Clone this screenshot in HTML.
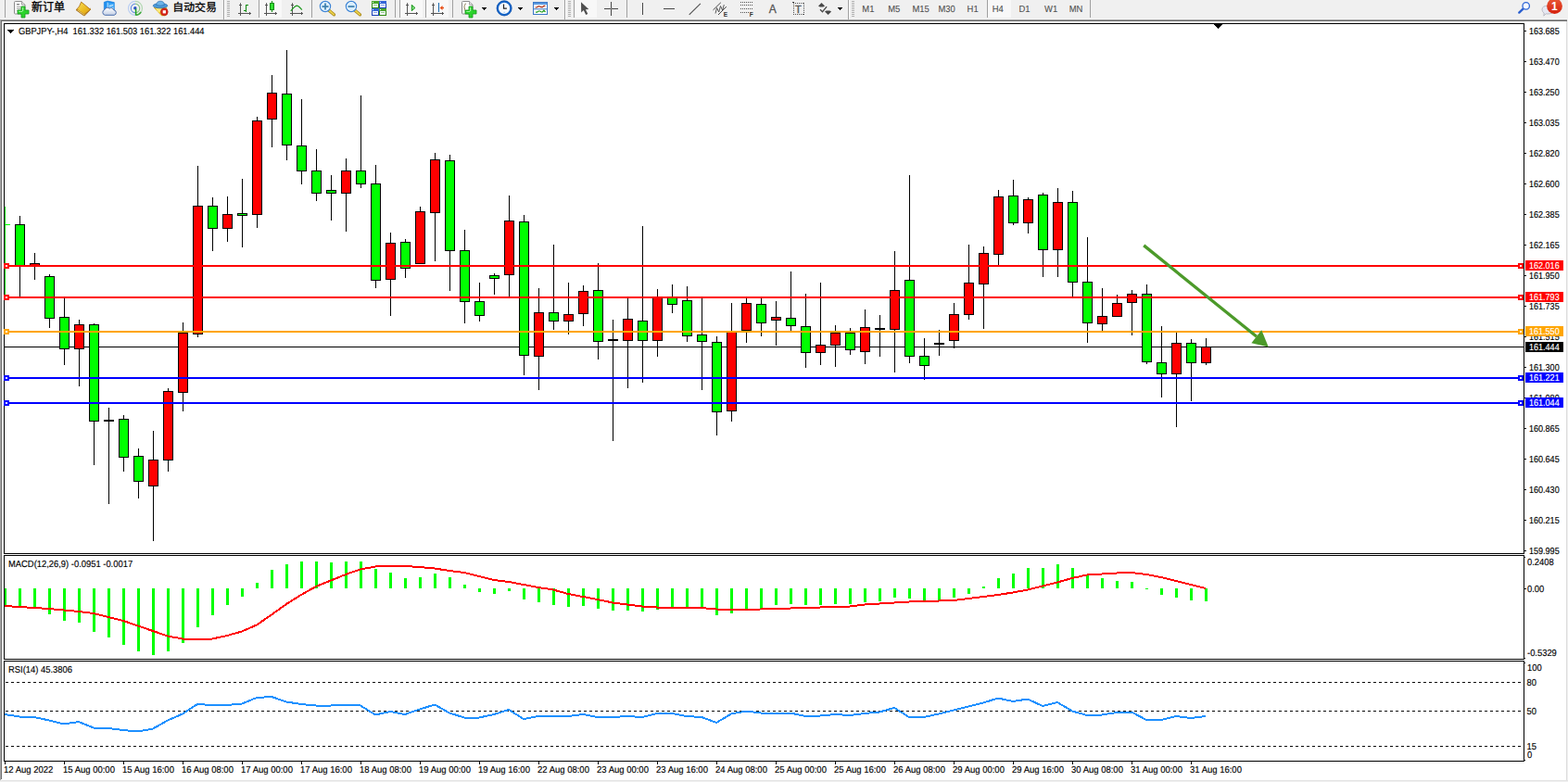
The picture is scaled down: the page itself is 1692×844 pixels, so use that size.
<!DOCTYPE html><html><head><meta charset="utf-8"><title>GBPJPY H4</title><style>html,body{margin:0;padding:0;background:#fff}body{width:1692px;height:844px;overflow:hidden;font-family:"Liberation Sans",sans-serif}svg{display:block;font-family:"Liberation Sans",sans-serif}</style></head><body>
<svg width="1692" height="844" viewBox="0 0 1692 844">
<rect x="0" y="0" width="1692" height="844" fill="#fff" />
<g shape-rendering="crispEdges">
<rect x="0" y="0" width="1692" height="21" fill="#f0f0f0" />
<rect x="0" y="20" width="1692" height="1" fill="#f5f5f5" />
<rect x="0" y="21" width="1692" height="1" fill="#a0a0a0" />
<rect x="0" y="22" width="1692" height="1" fill="#696969" />
<rect x="0" y="22" width="1" height="820" fill="#a8a8a8" />
<rect x="1" y="23" width="1" height="818" fill="#6e6e6e" />
<rect x="1690" y="23" width="1" height="821" fill="#dcdcdc" />
<rect x="1691" y="21" width="1" height="823" fill="#f0f0f0" />
<rect x="0" y="842" width="1692" height="1" fill="#e3e3e3" />
<rect x="0" y="843" width="1692" height="1" fill="#f0f0f0" />
<rect x="4" y="25" width="1641" height="1" fill="#000" />
<rect x="4" y="25" width="1" height="573" fill="#000" />
<rect x="1644" y="25" width="1" height="573" fill="#000" />
<rect x="4" y="597" width="1641" height="1" fill="#000" />
<rect x="4" y="599" width="1641" height="1" fill="#000" />
<rect x="4" y="599" width="1" height="113" fill="#000" />
<rect x="1644" y="599" width="1" height="113" fill="#000" />
<rect x="4" y="711" width="1641" height="1" fill="#000" />
<rect x="4" y="713" width="1641" height="1" fill="#000" />
<rect x="4" y="713" width="1" height="109" fill="#000" />
<rect x="1644" y="713" width="1" height="109" fill="#000" />
<rect x="4" y="821" width="1641" height="1" fill="#000" />
<rect x="1645" y="601" width="1" height="1" fill="#000" />
<rect x="1645" y="710" width="1" height="1" fill="#000" />
<rect x="1645" y="715" width="1" height="1" fill="#000" />
<rect x="1645" y="820" width="1" height="1" fill="#000" />
<rect x="1645" y="33" width="2" height="1" fill="#000" />
<rect x="1645" y="66" width="2" height="1" fill="#000" />
<rect x="1645" y="99" width="2" height="1" fill="#000" />
<rect x="1645" y="132" width="2" height="1" fill="#000" />
<rect x="1645" y="165" width="2" height="1" fill="#000" />
<rect x="1645" y="198" width="2" height="1" fill="#000" />
<rect x="1645" y="231" width="2" height="1" fill="#000" />
<rect x="1645" y="264" width="2" height="1" fill="#000" />
<rect x="1645" y="297" width="2" height="1" fill="#000" />
<rect x="1645" y="330" width="2" height="1" fill="#000" />
<rect x="1645" y="363" width="2" height="1" fill="#000" />
<rect x="1645" y="396" width="2" height="1" fill="#000" />
<rect x="1645" y="429" width="2" height="1" fill="#000" />
<rect x="1645" y="462" width="2" height="1" fill="#000" />
<rect x="1645" y="495" width="2" height="1" fill="#000" />
<rect x="1645" y="528" width="2" height="1" fill="#000" />
<rect x="1645" y="561" width="2" height="1" fill="#000" />
<rect x="1645" y="594" width="2" height="1" fill="#000" />
<rect x="1645" y="635" width="2" height="1" fill="#000" />
<rect x="5" y="374" width="1639" height="1" fill="#000" />
<rect x="5" y="223" width="1" height="95" fill="#00ff00" />
<rect x="5" y="242" width="6" height="1" fill="#00ff00" />
<rect x="21" y="233" width="1" height="87" fill="#000" />
<rect x="16" y="242" width="11" height="45" fill="#000" />
<rect x="17" y="243" width="9" height="43" fill="#00ff00" />
<rect x="37" y="273" width="1" height="29" fill="#000" />
<rect x="32" y="284" width="11" height="3" fill="#000" />
<rect x="33" y="285" width="9" height="1" fill="#ff0000" />
<rect x="53" y="296" width="1" height="58" fill="#000" />
<rect x="48" y="298" width="11" height="46" fill="#000" />
<rect x="49" y="299" width="9" height="44" fill="#00ff00" />
<rect x="69" y="322" width="1" height="72" fill="#000" />
<rect x="64" y="342" width="11" height="35" fill="#000" />
<rect x="65" y="343" width="9" height="33" fill="#00ff00" />
<rect x="85" y="345" width="1" height="72" fill="#000" />
<rect x="80" y="350" width="11" height="27" fill="#000" />
<rect x="81" y="351" width="9" height="25" fill="#ff0000" />
<rect x="101" y="349" width="1" height="153" fill="#000" />
<rect x="96" y="350" width="11" height="105" fill="#000" />
<rect x="97" y="351" width="9" height="103" fill="#00ff00" />
<rect x="117" y="440" width="1" height="104" fill="#000" />
<rect x="112" y="453" width="11" height="2" fill="#000" />
<rect x="133" y="448" width="1" height="61" fill="#000" />
<rect x="128" y="452" width="11" height="42" fill="#000" />
<rect x="129" y="453" width="9" height="40" fill="#00ff00" />
<rect x="149" y="484" width="1" height="54" fill="#000" />
<rect x="144" y="492" width="11" height="28" fill="#000" />
<rect x="145" y="493" width="9" height="26" fill="#00ff00" />
<rect x="165" y="465" width="1" height="119" fill="#000" />
<rect x="160" y="496" width="11" height="29" fill="#000" />
<rect x="161" y="497" width="9" height="27" fill="#ff0000" />
<rect x="181" y="419" width="1" height="90" fill="#000" />
<rect x="176" y="422" width="11" height="75" fill="#000" />
<rect x="177" y="423" width="9" height="73" fill="#ff0000" />
<rect x="197" y="348" width="1" height="96" fill="#000" />
<rect x="192" y="359" width="11" height="65" fill="#000" />
<rect x="193" y="360" width="9" height="63" fill="#ff0000" />
<rect x="213" y="179" width="1" height="185" fill="#000" />
<rect x="208" y="222" width="11" height="139" fill="#000" />
<rect x="209" y="223" width="9" height="137" fill="#ff0000" />
<rect x="229" y="213" width="1" height="58" fill="#000" />
<rect x="224" y="222" width="11" height="25" fill="#000" />
<rect x="225" y="223" width="9" height="23" fill="#00ff00" />
<rect x="245" y="212" width="1" height="49" fill="#000" />
<rect x="240" y="231" width="11" height="16" fill="#000" />
<rect x="241" y="232" width="9" height="14" fill="#ff0000" />
<rect x="261" y="193" width="1" height="74" fill="#000" />
<rect x="256" y="230" width="11" height="3" fill="#000" />
<rect x="257" y="231" width="9" height="1" fill="#00ff00" />
<rect x="277" y="126" width="1" height="120" fill="#000" />
<rect x="272" y="130" width="11" height="102" fill="#000" />
<rect x="273" y="131" width="9" height="100" fill="#ff0000" />
<rect x="293" y="81" width="1" height="78" fill="#000" />
<rect x="288" y="100" width="11" height="29" fill="#000" />
<rect x="289" y="101" width="9" height="27" fill="#ff0000" />
<rect x="309" y="54" width="1" height="119" fill="#000" />
<rect x="304" y="101" width="11" height="56" fill="#000" />
<rect x="305" y="102" width="9" height="54" fill="#00ff00" />
<rect x="325" y="107" width="1" height="92" fill="#000" />
<rect x="320" y="157" width="11" height="28" fill="#000" />
<rect x="321" y="158" width="9" height="26" fill="#00ff00" />
<rect x="341" y="161" width="1" height="56" fill="#000" />
<rect x="336" y="184" width="11" height="25" fill="#000" />
<rect x="337" y="185" width="9" height="23" fill="#00ff00" />
<rect x="357" y="189" width="1" height="49" fill="#000" />
<rect x="352" y="205" width="11" height="4" fill="#000" />
<rect x="353" y="206" width="9" height="2" fill="#00ff00" />
<rect x="373" y="171" width="1" height="79" fill="#000" />
<rect x="368" y="184" width="11" height="25" fill="#000" />
<rect x="369" y="185" width="9" height="23" fill="#ff0000" />
<rect x="389" y="103" width="1" height="100" fill="#000" />
<rect x="384" y="184" width="11" height="15" fill="#000" />
<rect x="385" y="185" width="9" height="13" fill="#00ff00" />
<rect x="405" y="178" width="1" height="133" fill="#000" />
<rect x="400" y="198" width="11" height="105" fill="#000" />
<rect x="401" y="199" width="9" height="103" fill="#00ff00" />
<rect x="421" y="251" width="1" height="90" fill="#000" />
<rect x="416" y="262" width="11" height="40" fill="#000" />
<rect x="417" y="263" width="9" height="38" fill="#ff0000" />
<rect x="437" y="258" width="1" height="42" fill="#000" />
<rect x="432" y="261" width="11" height="29" fill="#000" />
<rect x="433" y="262" width="9" height="27" fill="#00ff00" />
<rect x="453" y="223" width="1" height="62" fill="#000" />
<rect x="448" y="228" width="11" height="57" fill="#000" />
<rect x="449" y="229" width="9" height="55" fill="#ff0000" />
<rect x="469" y="165" width="1" height="117" fill="#000" />
<rect x="464" y="172" width="11" height="58" fill="#000" />
<rect x="465" y="173" width="9" height="56" fill="#ff0000" />
<rect x="485" y="167" width="1" height="147" fill="#000" />
<rect x="480" y="173" width="11" height="98" fill="#000" />
<rect x="481" y="174" width="9" height="96" fill="#00ff00" />
<rect x="501" y="248" width="1" height="101" fill="#000" />
<rect x="496" y="270" width="11" height="56" fill="#000" />
<rect x="497" y="271" width="9" height="54" fill="#00ff00" />
<rect x="517" y="305" width="1" height="42" fill="#000" />
<rect x="512" y="325" width="11" height="16" fill="#000" />
<rect x="513" y="326" width="9" height="14" fill="#00ff00" />
<rect x="533" y="295" width="1" height="23" fill="#000" />
<rect x="528" y="297" width="11" height="4" fill="#000" />
<rect x="529" y="298" width="9" height="2" fill="#00ff00" />
<rect x="549" y="211" width="1" height="109" fill="#000" />
<rect x="544" y="238" width="11" height="59" fill="#000" />
<rect x="545" y="239" width="9" height="57" fill="#ff0000" />
<rect x="565" y="232" width="1" height="173" fill="#000" />
<rect x="560" y="239" width="11" height="145" fill="#000" />
<rect x="561" y="240" width="9" height="143" fill="#00ff00" />
<rect x="581" y="311" width="1" height="110" fill="#000" />
<rect x="576" y="337" width="11" height="48" fill="#000" />
<rect x="577" y="338" width="9" height="46" fill="#ff0000" />
<rect x="597" y="264" width="1" height="92" fill="#000" />
<rect x="592" y="337" width="11" height="10" fill="#000" />
<rect x="593" y="338" width="9" height="8" fill="#00ff00" />
<rect x="613" y="305" width="1" height="56" fill="#000" />
<rect x="608" y="339" width="11" height="8" fill="#000" />
<rect x="609" y="340" width="9" height="6" fill="#ff0000" />
<rect x="629" y="308" width="1" height="44" fill="#000" />
<rect x="624" y="314" width="11" height="25" fill="#000" />
<rect x="625" y="315" width="9" height="23" fill="#ff0000" />
<rect x="645" y="284" width="1" height="104" fill="#000" />
<rect x="640" y="313" width="11" height="56" fill="#000" />
<rect x="641" y="314" width="9" height="54" fill="#00ff00" />
<rect x="661" y="345" width="1" height="131" fill="#000" />
<rect x="656" y="366" width="11" height="2" fill="#000" />
<rect x="677" y="322" width="1" height="97" fill="#000" />
<rect x="672" y="344" width="11" height="24" fill="#000" />
<rect x="673" y="345" width="9" height="22" fill="#ff0000" />
<rect x="693" y="244" width="1" height="169" fill="#000" />
<rect x="688" y="346" width="11" height="22" fill="#000" />
<rect x="689" y="347" width="9" height="20" fill="#00ff00" />
<rect x="709" y="312" width="1" height="73" fill="#000" />
<rect x="704" y="321" width="11" height="47" fill="#000" />
<rect x="705" y="322" width="9" height="45" fill="#ff0000" />
<rect x="725" y="307" width="1" height="31" fill="#000" />
<rect x="720" y="321" width="11" height="8" fill="#000" />
<rect x="721" y="322" width="9" height="6" fill="#00ff00" />
<rect x="741" y="309" width="1" height="60" fill="#000" />
<rect x="736" y="324" width="11" height="39" fill="#000" />
<rect x="737" y="325" width="9" height="37" fill="#00ff00" />
<rect x="757" y="322" width="1" height="99" fill="#000" />
<rect x="752" y="361" width="11" height="8" fill="#000" />
<rect x="753" y="362" width="9" height="6" fill="#00ff00" />
<rect x="773" y="363" width="1" height="107" fill="#000" />
<rect x="768" y="369" width="11" height="76" fill="#000" />
<rect x="769" y="370" width="9" height="74" fill="#00ff00" />
<rect x="789" y="327" width="1" height="128" fill="#000" />
<rect x="784" y="358" width="11" height="86" fill="#000" />
<rect x="785" y="359" width="9" height="84" fill="#ff0000" />
<rect x="805" y="322" width="1" height="48" fill="#000" />
<rect x="800" y="327" width="11" height="30" fill="#000" />
<rect x="801" y="328" width="9" height="28" fill="#ff0000" />
<rect x="821" y="322" width="1" height="41" fill="#000" />
<rect x="816" y="328" width="11" height="21" fill="#000" />
<rect x="817" y="329" width="9" height="19" fill="#00ff00" />
<rect x="837" y="325" width="1" height="48" fill="#000" />
<rect x="832" y="342" width="11" height="4" fill="#000" />
<rect x="833" y="343" width="9" height="2" fill="#ff0000" />
<rect x="853" y="293" width="1" height="64" fill="#000" />
<rect x="848" y="343" width="11" height="9" fill="#000" />
<rect x="849" y="344" width="9" height="7" fill="#00ff00" />
<rect x="869" y="317" width="1" height="80" fill="#000" />
<rect x="864" y="352" width="11" height="29" fill="#000" />
<rect x="865" y="353" width="9" height="27" fill="#00ff00" />
<rect x="885" y="305" width="1" height="89" fill="#000" />
<rect x="880" y="372" width="11" height="9" fill="#000" />
<rect x="881" y="373" width="9" height="7" fill="#ff0000" />
<rect x="901" y="351" width="1" height="45" fill="#000" />
<rect x="896" y="359" width="11" height="14" fill="#000" />
<rect x="897" y="360" width="9" height="12" fill="#ff0000" />
<rect x="917" y="354" width="1" height="29" fill="#000" />
<rect x="912" y="359" width="11" height="19" fill="#000" />
<rect x="913" y="360" width="9" height="17" fill="#00ff00" />
<rect x="933" y="334" width="1" height="59" fill="#000" />
<rect x="928" y="353" width="11" height="27" fill="#000" />
<rect x="929" y="354" width="9" height="25" fill="#ff0000" />
<rect x="949" y="340" width="1" height="45" fill="#000" />
<rect x="944" y="354" width="11" height="2" fill="#000" />
<rect x="965" y="271" width="1" height="131" fill="#000" />
<rect x="960" y="313" width="11" height="43" fill="#000" />
<rect x="961" y="314" width="9" height="41" fill="#ff0000" />
<rect x="981" y="189" width="1" height="203" fill="#000" />
<rect x="976" y="302" width="11" height="83" fill="#000" />
<rect x="977" y="303" width="9" height="81" fill="#00ff00" />
<rect x="997" y="365" width="1" height="45" fill="#000" />
<rect x="992" y="384" width="11" height="11" fill="#000" />
<rect x="993" y="385" width="9" height="9" fill="#00ff00" />
<rect x="1013" y="356" width="1" height="28" fill="#000" />
<rect x="1008" y="370" width="11" height="2" fill="#000" />
<rect x="1029" y="327" width="1" height="49" fill="#000" />
<rect x="1024" y="339" width="11" height="29" fill="#000" />
<rect x="1025" y="340" width="9" height="27" fill="#ff0000" />
<rect x="1045" y="264" width="1" height="81" fill="#000" />
<rect x="1040" y="305" width="11" height="35" fill="#000" />
<rect x="1041" y="306" width="9" height="33" fill="#ff0000" />
<rect x="1061" y="266" width="1" height="89" fill="#000" />
<rect x="1056" y="273" width="11" height="34" fill="#000" />
<rect x="1057" y="274" width="9" height="32" fill="#ff0000" />
<rect x="1077" y="205" width="1" height="81" fill="#000" />
<rect x="1072" y="212" width="11" height="63" fill="#000" />
<rect x="1073" y="213" width="9" height="61" fill="#ff0000" />
<rect x="1093" y="194" width="1" height="49" fill="#000" />
<rect x="1088" y="211" width="11" height="30" fill="#000" />
<rect x="1089" y="212" width="9" height="28" fill="#00ff00" />
<rect x="1109" y="213" width="1" height="39" fill="#000" />
<rect x="1104" y="215" width="11" height="26" fill="#000" />
<rect x="1105" y="216" width="9" height="24" fill="#ff0000" />
<rect x="1125" y="208" width="1" height="91" fill="#000" />
<rect x="1120" y="210" width="11" height="60" fill="#000" />
<rect x="1121" y="211" width="9" height="58" fill="#00ff00" />
<rect x="1141" y="203" width="1" height="96" fill="#000" />
<rect x="1136" y="218" width="11" height="52" fill="#000" />
<rect x="1137" y="219" width="9" height="50" fill="#ff0000" />
<rect x="1157" y="206" width="1" height="114" fill="#000" />
<rect x="1152" y="218" width="11" height="87" fill="#000" />
<rect x="1153" y="219" width="9" height="85" fill="#00ff00" />
<rect x="1173" y="256" width="1" height="114" fill="#000" />
<rect x="1168" y="304" width="11" height="45" fill="#000" />
<rect x="1169" y="305" width="9" height="43" fill="#00ff00" />
<rect x="1189" y="311" width="1" height="46" fill="#000" />
<rect x="1184" y="341" width="11" height="9" fill="#000" />
<rect x="1185" y="342" width="9" height="7" fill="#ff0000" />
<rect x="1205" y="318" width="1" height="24" fill="#000" />
<rect x="1200" y="327" width="11" height="15" fill="#000" />
<rect x="1201" y="328" width="9" height="13" fill="#ff0000" />
<rect x="1221" y="313" width="1" height="49" fill="#000" />
<rect x="1216" y="317" width="11" height="10" fill="#000" />
<rect x="1217" y="318" width="9" height="8" fill="#ff0000" />
<rect x="1237" y="307" width="1" height="86" fill="#000" />
<rect x="1232" y="317" width="11" height="74" fill="#000" />
<rect x="1233" y="318" width="9" height="72" fill="#00ff00" />
<rect x="1253" y="352" width="1" height="77" fill="#000" />
<rect x="1248" y="391" width="11" height="13" fill="#000" />
<rect x="1249" y="392" width="9" height="11" fill="#00ff00" />
<rect x="1269" y="359" width="1" height="102" fill="#000" />
<rect x="1264" y="370" width="11" height="34" fill="#000" />
<rect x="1265" y="371" width="9" height="32" fill="#ff0000" />
<rect x="1285" y="366" width="1" height="67" fill="#000" />
<rect x="1280" y="370" width="11" height="22" fill="#000" />
<rect x="1281" y="371" width="9" height="20" fill="#00ff00" />
<rect x="1301" y="365" width="1" height="29" fill="#000" />
<rect x="1296" y="374" width="11" height="18" fill="#000" />
<rect x="1297" y="375" width="9" height="16" fill="#ff0000" />
<rect x="1310" y="26" width="9" height="1" fill="#000" />
<rect x="1311" y="27" width="7" height="1" fill="#000" />
<rect x="1312" y="28" width="5" height="1" fill="#000" />
<rect x="1313" y="29" width="3" height="1" fill="#000" />
<rect x="1314" y="30" width="1" height="1" fill="#000" />
<rect x="5" y="286" width="1639" height="2" fill="#ff0000" />
<rect x="4" y="284" width="6" height="6" fill="#ff0000" />
<rect x="6" y="286" width="2" height="2" fill="#fff" />
<rect x="1638" y="284" width="6" height="6" fill="#ff0000" />
<rect x="1640" y="286" width="2" height="2" fill="#fff" />
<rect x="5" y="320" width="1639" height="2" fill="#ff0000" />
<rect x="4" y="318" width="6" height="6" fill="#ff0000" />
<rect x="6" y="320" width="2" height="2" fill="#fff" />
<rect x="1638" y="318" width="6" height="6" fill="#ff0000" />
<rect x="1640" y="320" width="2" height="2" fill="#fff" />
<rect x="5" y="357" width="1639" height="2" fill="#ffa500" />
<rect x="4" y="355" width="6" height="6" fill="#ffa500" />
<rect x="6" y="357" width="2" height="2" fill="#fff" />
<rect x="1638" y="355" width="6" height="6" fill="#ffa500" />
<rect x="1640" y="357" width="2" height="2" fill="#fff" />
<rect x="5" y="407" width="1639" height="2" fill="#0000ff" />
<rect x="4" y="405" width="6" height="6" fill="#0000ff" />
<rect x="6" y="407" width="2" height="2" fill="#fff" />
<rect x="1638" y="405" width="6" height="6" fill="#0000ff" />
<rect x="1640" y="407" width="2" height="2" fill="#fff" />
<rect x="5" y="434" width="1639" height="2" fill="#0000ff" />
<rect x="4" y="432" width="6" height="6" fill="#0000ff" />
<rect x="6" y="434" width="2" height="2" fill="#fff" />
<rect x="1638" y="432" width="6" height="6" fill="#0000ff" />
<rect x="1640" y="434" width="2" height="2" fill="#fff" />
<rect x="5" y="635" width="2" height="19" fill="#00ff00" />
<rect x="20" y="635" width="3" height="20" fill="#00ff00" />
<rect x="36" y="635" width="3" height="22" fill="#00ff00" />
<rect x="52" y="635" width="3" height="28" fill="#00ff00" />
<rect x="68" y="635" width="3" height="35" fill="#00ff00" />
<rect x="84" y="635" width="3" height="37" fill="#00ff00" />
<rect x="100" y="635" width="3" height="47" fill="#00ff00" />
<rect x="116" y="635" width="3" height="53" fill="#00ff00" />
<rect x="132" y="635" width="3" height="61" fill="#00ff00" />
<rect x="148" y="635" width="3" height="68" fill="#00ff00" />
<rect x="164" y="635" width="3" height="72" fill="#00ff00" />
<rect x="180" y="635" width="3" height="68" fill="#00ff00" />
<rect x="196" y="635" width="3" height="59" fill="#00ff00" />
<rect x="212" y="635" width="3" height="42" fill="#00ff00" />
<rect x="228" y="635" width="3" height="29" fill="#00ff00" />
<rect x="244" y="635" width="3" height="18" fill="#00ff00" />
<rect x="260" y="635" width="3" height="9" fill="#00ff00" />
<rect x="276" y="629" width="3" height="6" fill="#00ff00" />
<rect x="292" y="615" width="3" height="20" fill="#00ff00" />
<rect x="308" y="609" width="3" height="26" fill="#00ff00" />
<rect x="324" y="606" width="3" height="29" fill="#00ff00" />
<rect x="340" y="606" width="3" height="29" fill="#00ff00" />
<rect x="356" y="607" width="3" height="28" fill="#00ff00" />
<rect x="372" y="606" width="3" height="29" fill="#00ff00" />
<rect x="388" y="606" width="3" height="29" fill="#00ff00" />
<rect x="404" y="614" width="3" height="21" fill="#00ff00" />
<rect x="420" y="618" width="3" height="17" fill="#00ff00" />
<rect x="436" y="624" width="3" height="11" fill="#00ff00" />
<rect x="452" y="623" width="3" height="12" fill="#00ff00" />
<rect x="468" y="619" width="3" height="16" fill="#00ff00" />
<rect x="484" y="623" width="3" height="12" fill="#00ff00" />
<rect x="500" y="631" width="3" height="4" fill="#00ff00" />
<rect x="516" y="635" width="3" height="4" fill="#00ff00" />
<rect x="532" y="635" width="3" height="6" fill="#00ff00" />
<rect x="548" y="635" width="3" height="3" fill="#00ff00" />
<rect x="564" y="635" width="3" height="12" fill="#00ff00" />
<rect x="580" y="635" width="3" height="15" fill="#00ff00" />
<rect x="596" y="635" width="3" height="18" fill="#00ff00" />
<rect x="612" y="635" width="3" height="20" fill="#00ff00" />
<rect x="628" y="635" width="3" height="19" fill="#00ff00" />
<rect x="644" y="635" width="3" height="22" fill="#00ff00" />
<rect x="660" y="635" width="3" height="24" fill="#00ff00" />
<rect x="676" y="635" width="3" height="24" fill="#00ff00" />
<rect x="692" y="635" width="3" height="25" fill="#00ff00" />
<rect x="708" y="635" width="3" height="23" fill="#00ff00" />
<rect x="724" y="635" width="3" height="21" fill="#00ff00" />
<rect x="740" y="635" width="3" height="21" fill="#00ff00" />
<rect x="756" y="635" width="3" height="22" fill="#00ff00" />
<rect x="772" y="635" width="3" height="29" fill="#00ff00" />
<rect x="788" y="635" width="3" height="27" fill="#00ff00" />
<rect x="804" y="635" width="3" height="23" fill="#00ff00" />
<rect x="820" y="635" width="3" height="22" fill="#00ff00" />
<rect x="836" y="635" width="3" height="18" fill="#00ff00" />
<rect x="852" y="635" width="3" height="17" fill="#00ff00" />
<rect x="868" y="635" width="3" height="18" fill="#00ff00" />
<rect x="884" y="635" width="3" height="18" fill="#00ff00" />
<rect x="900" y="635" width="3" height="17" fill="#00ff00" />
<rect x="916" y="635" width="3" height="17" fill="#00ff00" />
<rect x="932" y="635" width="3" height="15" fill="#00ff00" />
<rect x="948" y="635" width="3" height="14" fill="#00ff00" />
<rect x="964" y="635" width="3" height="10" fill="#00ff00" />
<rect x="980" y="635" width="3" height="11" fill="#00ff00" />
<rect x="996" y="635" width="3" height="13" fill="#00ff00" />
<rect x="1012" y="635" width="3" height="13" fill="#00ff00" />
<rect x="1028" y="635" width="3" height="10" fill="#00ff00" />
<rect x="1044" y="635" width="3" height="6" fill="#00ff00" />
<rect x="1060" y="633" width="3" height="2" fill="#00ff00" />
<rect x="1076" y="624" width="3" height="11" fill="#00ff00" />
<rect x="1092" y="619" width="3" height="16" fill="#00ff00" />
<rect x="1108" y="613" width="3" height="22" fill="#00ff00" />
<rect x="1124" y="613" width="3" height="22" fill="#00ff00" />
<rect x="1140" y="609" width="3" height="26" fill="#00ff00" />
<rect x="1156" y="613" width="3" height="22" fill="#00ff00" />
<rect x="1172" y="620" width="3" height="15" fill="#00ff00" />
<rect x="1188" y="624" width="3" height="11" fill="#00ff00" />
<rect x="1204" y="627" width="3" height="8" fill="#00ff00" />
<rect x="1220" y="628" width="3" height="7" fill="#00ff00" />
<rect x="1236" y="635" width="3" height="1" fill="#00ff00" />
<rect x="1252" y="635" width="3" height="7" fill="#00ff00" />
<rect x="1268" y="635" width="3" height="10" fill="#00ff00" />
<rect x="1284" y="635" width="3" height="13" fill="#00ff00" />
<rect x="1300" y="635" width="3" height="14" fill="#00ff00" />
<polyline points="5,654 21,655 37,656 53,657 69,658.5 85,660 101,662 117,666 133,670 149,675.5 165,681 181,686.5 197,689.5 213,690 229,689.5 245,686 261,681.5 277,674.5 293,663.5 309,652 325,642 341,633 357,626.5 373,620 389,614.5 405,611.5 421,611 437,611 453,612 469,613.5 485,616 501,618 517,622 533,626 549,628 565,631 581,634 597,636.5 613,641 629,644 645,647 661,650.5 677,652.5 693,654.5 709,655.5 725,655.5 741,655.5 757,656 773,657.5 789,657.75 805,657.75 821,657.5 837,657 853,656.5 869,655.5 885,655.5 901,655 917,654.5 933,652.5 949,651.5 965,650.5 981,649.5 997,649 1013,648.5 1029,648 1045,646 1061,644 1077,642 1093,639.5 1109,636.5 1125,632.5 1141,628.5 1157,624 1173,620.5 1189,619.5 1205,618.5 1221,618 1237,620 1253,623 1269,627 1285,631 1301,635" fill="none" stroke="#ff0000" stroke-width="2" stroke-linejoin="round"/>
<line x1="6" y1="736.5" x2="1642" y2="736.5" stroke="#000" stroke-width="1" stroke-dasharray="3 3"/>
<line x1="6" y1="767.5" x2="1642" y2="767.5" stroke="#000" stroke-width="1" stroke-dasharray="3 3"/>
<line x1="6" y1="805.5" x2="1642" y2="805.5" stroke="#000" stroke-width="1" stroke-dasharray="3 3"/>
<polyline points="5,771 21,773.5 37,774 53,777.5 69,781.5 85,779 101,785.5 117,786 133,788 149,789.5 165,786.5 181,777.5 197,770.5 213,760 229,761 245,761 261,759.5 277,753 293,752 309,757.5 325,760 341,761.5 357,761.5 373,760.5 389,761.5 405,771.5 421,768 437,771 453,765.5 469,760.5 485,769.5 501,774.5 517,774.5 533,771 549,766 565,776 581,773 597,773 613,773 629,771 645,774 661,774 677,773 693,774 709,770 725,770 741,773 757,774 773,780 789,770.5 805,767.5 821,769.5 837,769.5 853,769.5 869,773 885,772.5 901,771 917,772 933,770 949,768.5 965,764 981,774 997,774 1013,770.5 1029,766.5 1045,762.5 1061,758.5 1077,753.5 1093,757 1109,754.5 1125,762 1141,758 1157,767.5 1173,772 1189,771.5 1205,769 1221,768.5 1237,777 1253,777 1269,773 1285,775 1301,773" fill="none" stroke="#1e90ff" stroke-width="2" stroke-linejoin="round"/>
<rect x="5" y="822" width="1" height="3" fill="#000" />
<rect x="69" y="822" width="1" height="3" fill="#000" />
<rect x="133" y="822" width="1" height="3" fill="#000" />
<rect x="197" y="822" width="1" height="3" fill="#000" />
<rect x="261" y="822" width="1" height="3" fill="#000" />
<rect x="325" y="822" width="1" height="3" fill="#000" />
<rect x="389" y="822" width="1" height="3" fill="#000" />
<rect x="453" y="822" width="1" height="3" fill="#000" />
<rect x="517" y="822" width="1" height="3" fill="#000" />
<rect x="581" y="822" width="1" height="3" fill="#000" />
<rect x="645" y="822" width="1" height="3" fill="#000" />
<rect x="709" y="822" width="1" height="3" fill="#000" />
<rect x="773" y="822" width="1" height="3" fill="#000" />
<rect x="837" y="822" width="1" height="3" fill="#000" />
<rect x="901" y="822" width="1" height="3" fill="#000" />
<rect x="965" y="822" width="1" height="3" fill="#000" />
<rect x="1029" y="822" width="1" height="3" fill="#000" />
<rect x="1093" y="822" width="1" height="3" fill="#000" />
<rect x="1157" y="822" width="1" height="3" fill="#000" />
<rect x="1221" y="822" width="1" height="3" fill="#000" />
<rect x="1285" y="822" width="1" height="3" fill="#000" />
<rect x="1646" y="281" width="41" height="11" fill="#ff0000" />
<rect x="1646" y="315" width="41" height="11" fill="#ff0000" />
<rect x="1646" y="352" width="41" height="11" fill="#ffa500" />
<rect x="1646" y="369" width="41" height="11" fill="#000" />
<rect x="1646" y="402" width="41" height="11" fill="#0000ff" />
<rect x="1646" y="429" width="41" height="11" fill="#0000ff" />
</g>
<g fill="#4c9a2a" stroke="none"><path d="M1233.2 266.2 L1235.3 263.6 L1357 362 L1354.9 364.6z"/><path d="M1368.8 374.4 L1361.3 356.3 L1350.4 370.3z"/></g>
<text transform="translate(1650,37) scale(0.8899,1)" font-size="10.17" text-rendering="geometricPrecision" fill="#000" stroke="#000" stroke-width="0.15" text-anchor="start" font-weight="normal" >163.685</text>
<text transform="translate(1650,70) scale(0.8899,1)" font-size="10.17" text-rendering="geometricPrecision" fill="#000" stroke="#000" stroke-width="0.15" text-anchor="start" font-weight="normal" >163.470</text>
<text transform="translate(1650,103) scale(0.8899,1)" font-size="10.17" text-rendering="geometricPrecision" fill="#000" stroke="#000" stroke-width="0.15" text-anchor="start" font-weight="normal" >163.250</text>
<text transform="translate(1650,136) scale(0.8899,1)" font-size="10.17" text-rendering="geometricPrecision" fill="#000" stroke="#000" stroke-width="0.15" text-anchor="start" font-weight="normal" >163.035</text>
<text transform="translate(1650,169) scale(0.8899,1)" font-size="10.17" text-rendering="geometricPrecision" fill="#000" stroke="#000" stroke-width="0.15" text-anchor="start" font-weight="normal" >162.820</text>
<text transform="translate(1650,202) scale(0.8899,1)" font-size="10.17" text-rendering="geometricPrecision" fill="#000" stroke="#000" stroke-width="0.15" text-anchor="start" font-weight="normal" >162.600</text>
<text transform="translate(1650,235) scale(0.8899,1)" font-size="10.17" text-rendering="geometricPrecision" fill="#000" stroke="#000" stroke-width="0.15" text-anchor="start" font-weight="normal" >162.385</text>
<text transform="translate(1650,268) scale(0.8899,1)" font-size="10.17" text-rendering="geometricPrecision" fill="#000" stroke="#000" stroke-width="0.15" text-anchor="start" font-weight="normal" >162.165</text>
<text transform="translate(1650,301) scale(0.8899,1)" font-size="10.17" text-rendering="geometricPrecision" fill="#000" stroke="#000" stroke-width="0.15" text-anchor="start" font-weight="normal" >161.950</text>
<text transform="translate(1650,334) scale(0.8899,1)" font-size="10.17" text-rendering="geometricPrecision" fill="#000" stroke="#000" stroke-width="0.15" text-anchor="start" font-weight="normal" >161.735</text>
<text transform="translate(1650,367) scale(0.8899,1)" font-size="10.17" text-rendering="geometricPrecision" fill="#000" stroke="#000" stroke-width="0.15" text-anchor="start" font-weight="normal" >161.515</text>
<text transform="translate(1650,400) scale(0.8899,1)" font-size="10.17" text-rendering="geometricPrecision" fill="#000" stroke="#000" stroke-width="0.15" text-anchor="start" font-weight="normal" >161.300</text>
<text transform="translate(1650,433) scale(0.8899,1)" font-size="10.17" text-rendering="geometricPrecision" fill="#000" stroke="#000" stroke-width="0.15" text-anchor="start" font-weight="normal" >161.080</text>
<text transform="translate(1650,466) scale(0.8899,1)" font-size="10.17" text-rendering="geometricPrecision" fill="#000" stroke="#000" stroke-width="0.15" text-anchor="start" font-weight="normal" >160.865</text>
<text transform="translate(1650,499) scale(0.8899,1)" font-size="10.17" text-rendering="geometricPrecision" fill="#000" stroke="#000" stroke-width="0.15" text-anchor="start" font-weight="normal" >160.645</text>
<text transform="translate(1650,532) scale(0.8899,1)" font-size="10.17" text-rendering="geometricPrecision" fill="#000" stroke="#000" stroke-width="0.15" text-anchor="start" font-weight="normal" >160.430</text>
<text transform="translate(1650,565) scale(0.8899,1)" font-size="10.17" text-rendering="geometricPrecision" fill="#000" stroke="#000" stroke-width="0.15" text-anchor="start" font-weight="normal" >160.215</text>
<text transform="translate(1650,598) scale(0.8899,1)" font-size="10.17" text-rendering="geometricPrecision" fill="#000" stroke="#000" stroke-width="0.15" text-anchor="start" font-weight="normal" >159.995</text>
<g shape-rendering="crispEdges">
<rect x="1646" y="352" width="41" height="11" fill="#ffa500" />
<rect x="1646" y="369" width="41" height="11" fill="#000" />
<rect x="1646" y="429" width="41" height="11" fill="#0000ff" />
</g>
<text transform="translate(1650,289.5) scale(0.8899,1)" font-size="10.17" text-rendering="geometricPrecision" fill="#fff" stroke="#fff" stroke-width="0.15" text-anchor="start" font-weight="normal" >162.016</text>
<text transform="translate(1650,323.5) scale(0.8899,1)" font-size="10.17" text-rendering="geometricPrecision" fill="#fff" stroke="#fff" stroke-width="0.15" text-anchor="start" font-weight="normal" >161.793</text>
<text transform="translate(1650,360.5) scale(0.8899,1)" font-size="10.17" text-rendering="geometricPrecision" fill="#fff" stroke="#fff" stroke-width="0.15" text-anchor="start" font-weight="normal" >161.550</text>
<text transform="translate(1650,377.5) scale(0.8899,1)" font-size="10.17" text-rendering="geometricPrecision" fill="#fff" stroke="#fff" stroke-width="0.15" text-anchor="start" font-weight="normal" >161.444</text>
<text transform="translate(1650,410.5) scale(0.8899,1)" font-size="10.17" text-rendering="geometricPrecision" fill="#fff" stroke="#fff" stroke-width="0.15" text-anchor="start" font-weight="normal" >161.221</text>
<text transform="translate(1650,437.5) scale(0.8899,1)" font-size="10.17" text-rendering="geometricPrecision" fill="#fff" stroke="#fff" stroke-width="0.15" text-anchor="start" font-weight="normal" >161.044</text>
<text transform="translate(1648,609.5) scale(0.9243,1)" font-size="10.17" text-rendering="geometricPrecision" fill="#000" stroke="#000" stroke-width="0.15" text-anchor="start" font-weight="normal" >0.2408</text>
<text transform="translate(1648,638.5) scale(0.9243,1)" font-size="10.17" text-rendering="geometricPrecision" fill="#000" stroke="#000" stroke-width="0.15" text-anchor="start" font-weight="normal" >0.00</text>
<text transform="translate(1648,707.5) scale(0.9243,1)" font-size="10.17" text-rendering="geometricPrecision" fill="#000" stroke="#000" stroke-width="0.15" text-anchor="start" font-weight="normal" >-0.5329</text>
<text transform="translate(1648,723.5) scale(0.9243,1)" font-size="10.17" text-rendering="geometricPrecision" fill="#000" stroke="#000" stroke-width="0.15" text-anchor="start" font-weight="normal" >100</text>
<text transform="translate(1647.5,739.5) scale(0.9243,1)" font-size="10.17" text-rendering="geometricPrecision" fill="#000" stroke="#000" stroke-width="0.15" text-anchor="start" font-weight="normal" >80</text>
<text transform="translate(1647.5,770.5) scale(0.9243,1)" font-size="10.17" text-rendering="geometricPrecision" fill="#000" stroke="#000" stroke-width="0.15" text-anchor="start" font-weight="normal" >50</text>
<text transform="translate(1647.5,808.5) scale(0.9243,1)" font-size="10.17" text-rendering="geometricPrecision" fill="#000" stroke="#000" stroke-width="0.15" text-anchor="start" font-weight="normal" >15</text>
<text transform="translate(1648,817.5) scale(0.9243,1)" font-size="10.17" text-rendering="geometricPrecision" fill="#000" stroke="#000" stroke-width="0.15" text-anchor="start" font-weight="normal" >0</text>
<text transform="translate(4,834) scale(0.9341,1)" font-size="10.17" text-rendering="geometricPrecision" fill="#000" stroke="#000" stroke-width="0.15" text-anchor="start" font-weight="normal" >12 Aug 2022</text>
<text transform="translate(68,834) scale(0.9341,1)" font-size="10.17" text-rendering="geometricPrecision" fill="#000" stroke="#000" stroke-width="0.15" text-anchor="start" font-weight="normal" >15 Aug 00:00</text>
<text transform="translate(132,834) scale(0.9341,1)" font-size="10.17" text-rendering="geometricPrecision" fill="#000" stroke="#000" stroke-width="0.15" text-anchor="start" font-weight="normal" >15 Aug 16:00</text>
<text transform="translate(196,834) scale(0.9341,1)" font-size="10.17" text-rendering="geometricPrecision" fill="#000" stroke="#000" stroke-width="0.15" text-anchor="start" font-weight="normal" >16 Aug 08:00</text>
<text transform="translate(260,834) scale(0.9341,1)" font-size="10.17" text-rendering="geometricPrecision" fill="#000" stroke="#000" stroke-width="0.15" text-anchor="start" font-weight="normal" >17 Aug 00:00</text>
<text transform="translate(324,834) scale(0.9341,1)" font-size="10.17" text-rendering="geometricPrecision" fill="#000" stroke="#000" stroke-width="0.15" text-anchor="start" font-weight="normal" >17 Aug 16:00</text>
<text transform="translate(388,834) scale(0.9341,1)" font-size="10.17" text-rendering="geometricPrecision" fill="#000" stroke="#000" stroke-width="0.15" text-anchor="start" font-weight="normal" >18 Aug 08:00</text>
<text transform="translate(452,834) scale(0.9341,1)" font-size="10.17" text-rendering="geometricPrecision" fill="#000" stroke="#000" stroke-width="0.15" text-anchor="start" font-weight="normal" >19 Aug 00:00</text>
<text transform="translate(516,834) scale(0.9341,1)" font-size="10.17" text-rendering="geometricPrecision" fill="#000" stroke="#000" stroke-width="0.15" text-anchor="start" font-weight="normal" >19 Aug 16:00</text>
<text transform="translate(580,834) scale(0.9341,1)" font-size="10.17" text-rendering="geometricPrecision" fill="#000" stroke="#000" stroke-width="0.15" text-anchor="start" font-weight="normal" >22 Aug 08:00</text>
<text transform="translate(644,834) scale(0.9341,1)" font-size="10.17" text-rendering="geometricPrecision" fill="#000" stroke="#000" stroke-width="0.15" text-anchor="start" font-weight="normal" >23 Aug 00:00</text>
<text transform="translate(708,834) scale(0.9341,1)" font-size="10.17" text-rendering="geometricPrecision" fill="#000" stroke="#000" stroke-width="0.15" text-anchor="start" font-weight="normal" >23 Aug 16:00</text>
<text transform="translate(772,834) scale(0.9341,1)" font-size="10.17" text-rendering="geometricPrecision" fill="#000" stroke="#000" stroke-width="0.15" text-anchor="start" font-weight="normal" >24 Aug 08:00</text>
<text transform="translate(836,834) scale(0.9341,1)" font-size="10.17" text-rendering="geometricPrecision" fill="#000" stroke="#000" stroke-width="0.15" text-anchor="start" font-weight="normal" >25 Aug 00:00</text>
<text transform="translate(900,834) scale(0.9341,1)" font-size="10.17" text-rendering="geometricPrecision" fill="#000" stroke="#000" stroke-width="0.15" text-anchor="start" font-weight="normal" >25 Aug 16:00</text>
<text transform="translate(964,834) scale(0.9341,1)" font-size="10.17" text-rendering="geometricPrecision" fill="#000" stroke="#000" stroke-width="0.15" text-anchor="start" font-weight="normal" >26 Aug 08:00</text>
<text transform="translate(1028,834) scale(0.9341,1)" font-size="10.17" text-rendering="geometricPrecision" fill="#000" stroke="#000" stroke-width="0.15" text-anchor="start" font-weight="normal" >29 Aug 00:00</text>
<text transform="translate(1092,834) scale(0.9341,1)" font-size="10.17" text-rendering="geometricPrecision" fill="#000" stroke="#000" stroke-width="0.15" text-anchor="start" font-weight="normal" >29 Aug 16:00</text>
<text transform="translate(1156,834) scale(0.9341,1)" font-size="10.17" text-rendering="geometricPrecision" fill="#000" stroke="#000" stroke-width="0.15" text-anchor="start" font-weight="normal" >30 Aug 08:00</text>
<text transform="translate(1220,834) scale(0.9341,1)" font-size="10.17" text-rendering="geometricPrecision" fill="#000" stroke="#000" stroke-width="0.15" text-anchor="start" font-weight="normal" >31 Aug 00:00</text>
<text transform="translate(1284,834) scale(0.9341,1)" font-size="10.17" text-rendering="geometricPrecision" fill="#000" stroke="#000" stroke-width="0.15" text-anchor="start" font-weight="normal" >31 Aug 16:00</text>
<path d="M8 32h7v1h-1v1h-1v1h-1v1h-1v-1h-1v-1h-1v-1h-1z" fill="#000" shape-rendering="crispEdges"/>
<text transform="translate(20,37) scale(0.9145,1)" font-size="10.17" text-rendering="geometricPrecision" fill="#000" stroke="#000" stroke-width="0.15" text-anchor="start" font-weight="normal" xml:space="preserve">GBPJPY-,H4  161.332 161.503 161.322 161.444</text>
<text transform="translate(9,612) scale(0.9243,1)" font-size="10.17" text-rendering="geometricPrecision" fill="#000" stroke="#000" stroke-width="0.15" text-anchor="start" font-weight="normal" >MACD(12,26,9) -0.0951 -0.0017</text>
<text transform="translate(9,726) scale(0.9243,1)" font-size="10.17" text-rendering="geometricPrecision" fill="#000" stroke="#000" stroke-width="0.15" text-anchor="start" font-weight="normal" >RSI(14) 45.3806</text>
<g shape-rendering="crispEdges">
<rect x="280" y="0" width="24" height="19" fill="#f8f8f8"/>
<rect x="432" y="0" width="24" height="19" fill="#f8f8f8"/>
<rect x="460" y="0" width="24" height="19" fill="#f8f8f8"/>
<rect x="620" y="0" width="24" height="19" fill="#f8f8f8"/>
<rect x="1066" y="0" width="25" height="19" fill="#f8f8f8"/>
<rect x="5" y="0" width="1" height="19" fill="#a0a0a0"/>
<rect x="279" y="0" width="1" height="19" fill="#a0a0a0"/>
<rect x="336" y="0" width="1" height="19" fill="#a0a0a0"/>
<rect x="426" y="0" width="1" height="19" fill="#a0a0a0"/>
<rect x="431" y="0" width="1" height="19" fill="#a0a0a0"/>
<rect x="459" y="0" width="1" height="19" fill="#a0a0a0"/>
<rect x="488" y="0" width="1" height="19" fill="#a0a0a0"/>
<rect x="619" y="0" width="1" height="19" fill="#a0a0a0"/>
<rect x="676" y="0" width="1" height="19" fill="#a0a0a0"/>
<rect x="1065" y="0" width="1" height="19" fill="#a0a0a0"/>
<rect x="1176" y="0" width="1" height="19" fill="#a0a0a0"/>
<rect x="241" y="0" width="1" height="21" fill="#a0a0a0"/><rect x="242" y="0" width="1" height="21" fill="#fff"/>
<rect x="609" y="0" width="1" height="21" fill="#a0a0a0"/><rect x="610" y="0" width="1" height="21" fill="#fff"/>
<rect x="915" y="0" width="1" height="21" fill="#a0a0a0"/><rect x="916" y="0" width="1" height="21" fill="#fff"/>
<rect x="245" y="1" width="3" height="1" fill="#b0b0b0"/>
<rect x="245" y="3" width="3" height="1" fill="#b0b0b0"/>
<rect x="245" y="5" width="3" height="1" fill="#b0b0b0"/>
<rect x="245" y="7" width="3" height="1" fill="#b0b0b0"/>
<rect x="245" y="9" width="3" height="1" fill="#b0b0b0"/>
<rect x="245" y="11" width="3" height="1" fill="#b0b0b0"/>
<rect x="245" y="13" width="3" height="1" fill="#b0b0b0"/>
<rect x="245" y="15" width="3" height="1" fill="#b0b0b0"/>
<rect x="245" y="17" width="3" height="1" fill="#b0b0b0"/>
<rect x="613" y="1" width="3" height="1" fill="#b0b0b0"/>
<rect x="613" y="3" width="3" height="1" fill="#b0b0b0"/>
<rect x="613" y="5" width="3" height="1" fill="#b0b0b0"/>
<rect x="613" y="7" width="3" height="1" fill="#b0b0b0"/>
<rect x="613" y="9" width="3" height="1" fill="#b0b0b0"/>
<rect x="613" y="11" width="3" height="1" fill="#b0b0b0"/>
<rect x="613" y="13" width="3" height="1" fill="#b0b0b0"/>
<rect x="613" y="15" width="3" height="1" fill="#b0b0b0"/>
<rect x="613" y="17" width="3" height="1" fill="#b0b0b0"/>
<rect x="919" y="1" width="3" height="1" fill="#b0b0b0"/>
<rect x="919" y="3" width="3" height="1" fill="#b0b0b0"/>
<rect x="919" y="5" width="3" height="1" fill="#b0b0b0"/>
<rect x="919" y="7" width="3" height="1" fill="#b0b0b0"/>
<rect x="919" y="9" width="3" height="1" fill="#b0b0b0"/>
<rect x="919" y="11" width="3" height="1" fill="#b0b0b0"/>
<rect x="919" y="13" width="3" height="1" fill="#b0b0b0"/>
<rect x="919" y="15" width="3" height="1" fill="#b0b0b0"/>
<rect x="919" y="17" width="3" height="1" fill="#b0b0b0"/>
<rect x="520" y="8" width="5" height="1" fill="#000"/><rect x="521" y="9" width="3" height="1" fill="#000"/><rect x="522" y="10" width="1" height="1" fill="#000"/>
<rect x="559" y="8" width="5" height="1" fill="#000"/><rect x="560" y="9" width="3" height="1" fill="#000"/><rect x="561" y="10" width="1" height="1" fill="#000"/>
<rect x="598" y="8" width="5" height="1" fill="#000"/><rect x="599" y="9" width="3" height="1" fill="#000"/><rect x="600" y="10" width="1" height="1" fill="#000"/>
<rect x="904" y="8" width="5" height="1" fill="#000"/><rect x="905" y="9" width="3" height="1" fill="#000"/><rect x="906" y="10" width="1" height="1" fill="#000"/>
<rect x="259" y="4" width="1" height="13" fill="#555"/><rect x="257" y="14" width="14" height="1" fill="#555"/>
<rect x="258" y="5" width="3" height="1" fill="#555"/><rect x="269" y="13" width="1" height="3" fill="#555"/><rect x="259" y="3" width="1" height="1" fill="#777"/>
<rect x="287" y="4" width="1" height="13" fill="#555"/><rect x="285" y="14" width="14" height="1" fill="#555"/>
<rect x="286" y="5" width="3" height="1" fill="#555"/><rect x="297" y="13" width="1" height="3" fill="#555"/><rect x="287" y="3" width="1" height="1" fill="#777"/>
<rect x="315" y="4" width="1" height="13" fill="#555"/><rect x="313" y="14" width="14" height="1" fill="#555"/>
<rect x="314" y="5" width="3" height="1" fill="#555"/><rect x="325" y="13" width="1" height="3" fill="#555"/><rect x="315" y="3" width="1" height="1" fill="#777"/>
<rect x="439" y="4" width="1" height="13" fill="#555"/><rect x="437" y="14" width="14" height="1" fill="#555"/>
<rect x="438" y="5" width="3" height="1" fill="#555"/><rect x="449" y="13" width="1" height="3" fill="#555"/><rect x="439" y="3" width="1" height="1" fill="#777"/>
<rect x="467" y="4" width="1" height="13" fill="#555"/><rect x="465" y="14" width="14" height="1" fill="#555"/>
<rect x="466" y="5" width="3" height="1" fill="#555"/><rect x="477" y="13" width="1" height="3" fill="#555"/><rect x="467" y="3" width="1" height="1" fill="#777"/>
<rect x="265" y="5" width="1" height="8" fill="#108a10"/><rect x="266" y="5" width="2" height="1" fill="#108a10"/><rect x="263" y="11" width="2" height="1" fill="#108a10"/>
<rect x="293" y="1" width="1" height="12" fill="#108a10"/><rect x="291" y="3" width="5" height="8" fill="#108a10"/><rect x="292" y="4" width="3" height="6" fill="#30e030"/>
<rect x="473" y="3" width="1" height="10" fill="#1a6ab0"/>
<rect x="659" y="2" width="1" height="15" fill="#484848"/><rect x="652" y="9" width="15" height="1" fill="#484848"/><rect x="659" y="9" width="1" height="1" fill="#999"/>
<rect x="693" y="3" width="1" height="13" fill="#484848"/><rect x="716" y="9" width="12" height="1" fill="#484848"/>
<rect x="799" y="2" width="1" height="1" fill="#555"/>
<rect x="801" y="2" width="1" height="1" fill="#555"/>
<rect x="803" y="2" width="1" height="1" fill="#555"/>
<rect x="805" y="2" width="1" height="1" fill="#555"/>
<rect x="807" y="2" width="1" height="1" fill="#555"/>
<rect x="809" y="2" width="1" height="1" fill="#555"/>
<rect x="811" y="2" width="1" height="1" fill="#555"/>
<rect x="799" y="5" width="1" height="1" fill="#555"/>
<rect x="801" y="5" width="1" height="1" fill="#555"/>
<rect x="803" y="5" width="1" height="1" fill="#555"/>
<rect x="805" y="5" width="1" height="1" fill="#555"/>
<rect x="807" y="5" width="1" height="1" fill="#555"/>
<rect x="809" y="5" width="1" height="1" fill="#555"/>
<rect x="811" y="5" width="1" height="1" fill="#555"/>
<rect x="799" y="9" width="1" height="1" fill="#555"/>
<rect x="801" y="9" width="1" height="1" fill="#555"/>
<rect x="803" y="9" width="1" height="1" fill="#555"/>
<rect x="805" y="9" width="1" height="1" fill="#555"/>
<rect x="807" y="9" width="1" height="1" fill="#555"/>
<rect x="809" y="9" width="1" height="1" fill="#555"/>
<rect x="811" y="9" width="1" height="1" fill="#555"/>
<rect x="799" y="13" width="1" height="1" fill="#555"/>
<rect x="801" y="13" width="1" height="1" fill="#555"/>
<rect x="803" y="13" width="1" height="1" fill="#555"/>
<rect x="805" y="13" width="1" height="1" fill="#555"/>
<rect x="807" y="13" width="1" height="1" fill="#555"/>
<rect x="856" y="3" width="1" height="1" fill="#555"/><rect x="856" y="15" width="1" height="1" fill="#555"/>
<rect x="858" y="3" width="1" height="1" fill="#555"/><rect x="858" y="15" width="1" height="1" fill="#555"/>
<rect x="860" y="3" width="1" height="1" fill="#555"/><rect x="860" y="15" width="1" height="1" fill="#555"/>
<rect x="862" y="3" width="1" height="1" fill="#555"/><rect x="862" y="15" width="1" height="1" fill="#555"/>
<rect x="864" y="3" width="1" height="1" fill="#555"/><rect x="864" y="15" width="1" height="1" fill="#555"/>
<rect x="866" y="3" width="1" height="1" fill="#555"/><rect x="866" y="15" width="1" height="1" fill="#555"/>
<rect x="856" y="3" width="1" height="1" fill="#555"/><rect x="867" y="3" width="1" height="1" fill="#555"/>
<rect x="856" y="5" width="1" height="1" fill="#555"/><rect x="867" y="5" width="1" height="1" fill="#555"/>
<rect x="856" y="7" width="1" height="1" fill="#555"/><rect x="867" y="7" width="1" height="1" fill="#555"/>
<rect x="856" y="9" width="1" height="1" fill="#555"/><rect x="867" y="9" width="1" height="1" fill="#555"/>
<rect x="856" y="11" width="1" height="1" fill="#555"/><rect x="867" y="11" width="1" height="1" fill="#555"/>
<rect x="856" y="13" width="1" height="1" fill="#555"/><rect x="867" y="13" width="1" height="1" fill="#555"/>
<rect x="856" y="15" width="1" height="1" fill="#555"/><rect x="867" y="15" width="1" height="1" fill="#555"/>
<rect x="855" y="2" width="2" height="1" fill="#444"/>
<rect x="401" y="1" width="8" height="8" fill="#2f8a10"/><rect x="401" y="1" width="8" height="3" fill="#4aa52a"/><rect x="402" y="4" width="6" height="4" fill="#f4f8ff"/><rect x="403" y="5" width="4" height="1" fill="#4aa52a" opacity="0.55"/><rect x="402" y="2" width="1" height="1" fill="#dfe8ff"/>
<rect x="409" y="1" width="8" height="8" fill="#1a3fb8"/><rect x="409" y="1" width="8" height="3" fill="#3565d8"/><rect x="410" y="4" width="6" height="4" fill="#f4f8ff"/><rect x="411" y="5" width="4" height="1" fill="#3565d8" opacity="0.55"/><rect x="410" y="2" width="1" height="1" fill="#dfe8ff"/>
<rect x="401" y="9" width="8" height="8" fill="#1a3fb8"/><rect x="401" y="9" width="8" height="3" fill="#3565d8"/><rect x="402" y="12" width="6" height="4" fill="#f4f8ff"/><rect x="403" y="13" width="4" height="1" fill="#3565d8" opacity="0.55"/><rect x="402" y="10" width="1" height="1" fill="#dfe8ff"/>
<rect x="409" y="9" width="8" height="8" fill="#2f8a10"/><rect x="409" y="9" width="8" height="3" fill="#4aa52a"/><rect x="410" y="12" width="6" height="4" fill="#f4f8ff"/><rect x="411" y="13" width="4" height="1" fill="#4aa52a" opacity="0.55"/><rect x="410" y="10" width="1" height="1" fill="#dfe8ff"/>
</g>
<path d="M15.5 2.5q0-1 1-1h7l3.5 3.5v9q0 1-1 1h-9.5q-1 0-1-1z" fill="#fdfdfd" stroke="#8c8c8c" stroke-width="1"/><path d="M23.5 1.5v3.5h3.5" fill="#e8e8e8" stroke="#8c8c8c" stroke-width="0.8"/>
<rect x="18" y="4" width="3" height="1.5" fill="#8a8a8a"/><rect x="18" y="7" width="5" height="1" fill="#a8a8a8"/><rect x="18" y="9" width="5" height="1" fill="#a8a8a8"/><rect x="18" y="11" width="3" height="1" fill="#a8a8a8"/>
<path d="M23 7h4v4h4v4h-4v4h-4v-4h-4v-4h4z" fill="#2bd42b" stroke="#18981c" stroke-width="0.8"/><path d="M24 8h1.2v4h-1.2zM20.2 12h4v1h-4z" fill="#9cf59c"/>
<path d="M498.5 2.5q0-1 1-1h7l3.5 3.5v9q0 1-1 1h-9.5q-1 0-1-1z" fill="#fdfdfd" stroke="#8c8c8c" stroke-width="1"/><path d="M506.5 1.5v3.5h3.5" fill="#e8e8e8" stroke="#8c8c8c" stroke-width="0.8"/>
<path d="M503 4q-1.5 0-1.500 1.500v1q0 1-1 1.200q1 0.200 1 1.200v1.500q0 1.500 1.500 1.500" fill="none" stroke="#8a7a50" stroke-width="0.9"/>
<path d="M506 7h4v4h4v4h-4v4h-4v-4h-4v-4h4z" fill="#2bd42b" stroke="#18981c" stroke-width="0.8"/><path d="M507 8h1.2v4h-1.2zM503.2 12h4v1h-4z" fill="#9cf59c"/>
<defs><linearGradient id="bk" x1="0" y1="0" x2="1" y2="1"><stop offset="0" stop-color="#f8e060"/><stop offset="0.55" stop-color="#ecbc22"/><stop offset="1" stop-color="#d89c14"/></linearGradient></defs>
<path d="M82 10.700l8.200 6q0.800 0.400 1.600-0.200l5.800-6.200l-0.300-1.300l-6.500 6.300l-7.600-5.500z" fill="#c8901c" stroke="#9a6210" stroke-width="0.700" stroke-linejoin="round"/>
<path d="M91.200 16l6.300-6.500" stroke="#efe2b0" stroke-width="0.800"/>
<path d="M87.700 2.100l9.900 8.200l-6.700 5.400l-7.900-5.800q2.800-2.300 4.700-7.800z" fill="url(#bk)" stroke="#a86a10" stroke-width="0.800" stroke-linejoin="round"/>
<path d="M83.600 10.800l7.300 5.200" stroke="#f8e890" stroke-width="0.900" opacity="0.800"/>
<defs><linearGradient id="cl" x1="0" y1="0" x2="0" y2="1"><stop offset="0" stop-color="#ffffff"/><stop offset="1" stop-color="#c4d0e6"/></linearGradient></defs>
<path d="M112.300 2.300l3.800-1.200l7.200 1.500v8.500h-11z" fill="#1e90f0" stroke="#1478d8" stroke-width="0.600"/><path d="M116.200 3.200l7 0.600v7.300h-7z" fill="#46acf8"/><path d="M116.100 2.600v8.500" stroke="#d8efff" stroke-width="0.900"/><path d="M117.800 6.600l4.200-1M117.800 8.800l4.500-0.200" stroke="#e8f6ff" stroke-width="1"/>
<path d="M113.300 16.300a3 3 0 0 1-0.400-5.800a3.200 3.200 0 0 1 5.300-1.300a3 3 0 0 1 4.600 1.600a2.800 2.800 0 0 1 0.400 5.500z" fill="url(#cl)" stroke="#4c6eac" stroke-width="1"/>
<g fill="none" stroke-width="1.200"><path d="M146 1.400a7.500 7.500 0 0 0 0 15" stroke="#b9cdf2"/><path d="M146 4.200a4.700 4.700 0 0 0 0 9.400" stroke="#6f94e2"/><path d="M146 1.400a7.500 7.500 0 0 1 0 15" stroke="#b4d8b4"/><path d="M146 4.200a4.700 4.700 0 0 1 0 9.400" stroke="#86c486"/><path d="M146.600 16.300a7.500 7.500 0 0 0 5.600-3.300" stroke="#3faa3f" stroke-width="1.400"/></g><circle cx="145.800" cy="8.800" r="1.700" fill="#2a55c8"/><path d="M146.600 9.500v7" stroke="#1fa01f" stroke-width="1.500"/>
<path d="M166.300 8.300l13.500 0.200l-1 8.200l-4.300 0.200z" fill="#f5cf2a" stroke="#c89a10" stroke-width="0.7" stroke-linejoin="round"/><path d="M168 9l9 0.200l-6 4.500z" fill="#fbe87a"/><ellipse cx="173" cy="6.200" rx="7.800" ry="2.600" fill="#4c9ad8" stroke="#2a6fb0" stroke-width="0.7"/><path d="M168.600 5.400q0.500-4.200 4.500-4.200t4.300 4.200q-4.400 1.600-8.800 0z" fill="#6db4e8" stroke="#2a6fb0" stroke-width="0.7"/><circle cx="177.300" cy="12.800" r="3.900" fill="#d9261c" stroke="#b01208" stroke-width="0.6"/><rect x="175.700" y="11.200" width="3.200" height="3.200" fill="#fff"/>
<path d="M313.800 11.800q4-5.200 6.600-5.600q2 0.300 5.400 4.400" fill="none" stroke="#1f9a1f" stroke-width="1.200"/>
<path d="M355 11.200l5.400 4.600" stroke="#a8881c" stroke-width="3.400" stroke-linecap="round"/><path d="M355.200 11.300l5 4.300" stroke="#ecd24a" stroke-width="1.800" stroke-linecap="round"/>
<circle cx="351" cy="7" r="5.600" fill="#d6ecfa" stroke="#3d84d6" stroke-width="1.200"/><circle cx="351" cy="7" r="4.300" fill="none" stroke="#f0f8ff" stroke-width="0.800"/>
<rect x="347.5" y="6.200" width="7" height="1.700" fill="#3f7fae"/>
<rect x="350.15" y="3.500" width="1.700" height="7" fill="#3f7fae"/>
<path d="M383 11.200l5.400 4.600" stroke="#a8881c" stroke-width="3.400" stroke-linecap="round"/><path d="M383.200 11.300l5 4.300" stroke="#ecd24a" stroke-width="1.800" stroke-linecap="round"/>
<circle cx="379" cy="7" r="5.600" fill="#d6ecfa" stroke="#3d84d6" stroke-width="1.200"/><circle cx="379" cy="7" r="4.300" fill="none" stroke="#f0f8ff" stroke-width="0.800"/>
<rect x="375.5" y="6.200" width="7" height="1.700" fill="#3f7fae"/>
<path d="M444.300 5.300l3.600 3.200l-3.600 3.200z" fill="#7ee07e" stroke="#149414" stroke-width="1"/>
<path d="M474.500 8.500l3-2.400v1.700h1.500v1.400h-1.500v1.700z" fill="#e8501a"/>
<circle cx="544.100" cy="8.900" r="7.200" fill="#f4f8fc" stroke="#1565c8" stroke-width="2.200"/><circle cx="544.100" cy="8.900" r="8.100" fill="none" stroke="#0d4aa0" stroke-width="0.500"/><path d="M543.500 4.500v4.700h3.400" fill="none" stroke="#222" stroke-width="1.200"/><circle cx="544.100" cy="13.300" r="0.500" fill="#3aa0ff"/>
<rect x="575.500" y="2.500" width="15" height="13" fill="#fff" stroke="#3a78c8" stroke-width="1"/><rect x="576" y="3" width="14" height="2" fill="#5b9ae0"/><rect x="576" y="9.300" width="14" height="1" fill="#3a78c8"/><path d="M577.500 8l1.800 0l1.400-1.200h1.600l1.400 0.800h1.800l1.400-1.200h1.500" fill="none" stroke="#a82a10" stroke-width="1.200"/><path d="M578 13.200h1.600l1.500-1.200h1.500l1.600 1h1.200l1.500-1.800l1.600 1.800" fill="none" stroke="#1e9a1e" stroke-width="1.200"/>
<path d="M627 2.200l0.200 11.300l2.600-2.400l2.400 5l2.100-1l-2.400-4.800l3.400-0.400z" fill="#505050"/>
<path d="M743.700 15.800l12.200-12" stroke="#505050" stroke-width="1.100"/>
<g stroke="#484848" stroke-width="1" fill="none"><path d="M769.500 10.800l8.300-8M775 16l8.800-8.800"/><path d="M772 14.500l1.500-6l2.200 4.500l1.800-6.500l2.200 4.600l1.600-6" stroke-width="0.900"/></g>
<text x="780.800" y="17.800" font-size="6.500" font-weight="bold" fill="#333">E</text><text x="808.800" y="17.800" font-size="6.500" font-weight="bold" fill="#333">F</text>
<text x="829.700" y="13.900" font-size="12" fill="#555" stroke="#555" stroke-width="0.300">A</text>
<text x="858" y="13.900" font-size="11" fill="#555" stroke="#555" stroke-width="0.400">T</text>
<path d="M883 6.500l3.500-3.400l3.600 3.400l-1.800 1h-3.500z" fill="#484848"/><path d="M890 12.500l1.800-1h3.500l1.800 1l-3.500 3.500z" fill="#484848"/><path d="M885 10.300l2.500 2.400l4.600-5.600" fill="none" stroke="#484848" stroke-width="1.300"/>
<text transform="translate(930.3,13) scale(0.93,1)" font-size="10.17" text-rendering="geometricPrecision" fill="#505050" stroke="#505050" stroke-width="0.1">M1</text>
<text transform="translate(958.2,13) scale(0.93,1)" font-size="10.17" text-rendering="geometricPrecision" fill="#505050" stroke="#505050" stroke-width="0.1">M5</text>
<text transform="translate(984.5,13) scale(0.93,1)" font-size="10.17" text-rendering="geometricPrecision" fill="#505050" stroke="#505050" stroke-width="0.1">M15</text>
<text transform="translate(1012.4,13) scale(0.93,1)" font-size="10.17" text-rendering="geometricPrecision" fill="#505050" stroke="#505050" stroke-width="0.1">M30</text>
<text transform="translate(1043.6,13) scale(0.93,1)" font-size="10.17" text-rendering="geometricPrecision" fill="#505050" stroke="#505050" stroke-width="0.1">H1</text>
<text transform="translate(1070.7,13) scale(0.93,1)" font-size="10.17" text-rendering="geometricPrecision" fill="#505050" stroke="#505050" stroke-width="0.1">H4</text>
<text transform="translate(1099.4,13) scale(0.93,1)" font-size="10.17" text-rendering="geometricPrecision" fill="#505050" stroke="#505050" stroke-width="0.1">D1</text>
<text transform="translate(1127,13) scale(0.93,1)" font-size="10.17" text-rendering="geometricPrecision" fill="#505050" stroke="#505050" stroke-width="0.1">W1</text>
<text transform="translate(1153.7,13) scale(0.93,1)" font-size="10.17" text-rendering="geometricPrecision" fill="#505050" stroke="#505050" stroke-width="0.1">MN</text>
<text x="34" y="12" font-size="12" font-family="&quot;Liberation Sans&quot;, &quot;Noto Sans CJK SC&quot;, sans-serif" fill="#000" stroke="#000" stroke-width="0.3" text-anchor="start">新订单</text>
<text x="186.3" y="12" font-size="11.9" font-family="&quot;Liberation Sans&quot;, &quot;Noto Sans CJK SC&quot;, sans-serif" fill="#000" stroke="#000" stroke-width="0.3" text-anchor="start">自动交易</text>
<path d="M1644 9.200l-4.700 4.400" stroke="#2a5fd0" stroke-width="2.400" stroke-linecap="round"/><circle cx="1646.700" cy="6.400" r="3.700" fill="#f6f9ff" stroke="#2e66d6" stroke-width="1.300"/>
<path d="M1664 10.500q0-4.300 6-4.300q6.500 0 6.500 4.500q0 4.300-6.500 4.300q-1 0-1.800-0.200l-2.400 2.400l0.400-3.200q-2.200-1.200-2.200-3.500z" fill="#e6e8f2" stroke="#b4b6be" stroke-width="0.900"/>
<defs><linearGradient id="bg" x1="0" y1="0" x2="0" y2="1"><stop offset="0" stop-color="#ea5a38"/><stop offset="1" stop-color="#d4200c"/></linearGradient></defs><circle cx="1677.500" cy="6.600" r="8.400" fill="url(#bg)"/>
<text x="1677.3" y="10.900" font-size="12" font-weight="bold" fill="#fff" text-anchor="middle">1</text>
</svg></body></html>
